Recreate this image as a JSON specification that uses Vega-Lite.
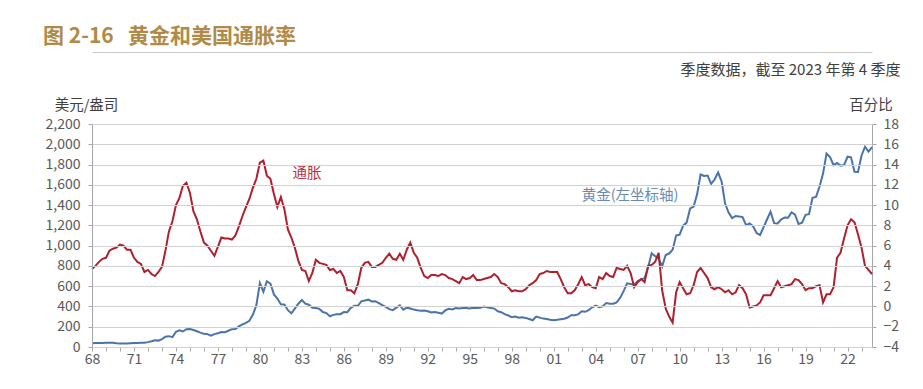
{
  "$schema": "https://vega.github.io/schema/vega-lite/v6.json",
  "width": 780,
  "height": 223,
  "autosize": {"type": "none"},
  "padding": {"left": 92, "top": 124, "right": 51, "bottom": 42},
  "background": "white",
  "title": {
    "text": "图 2-16\u00a0\u00a0\u00a0黄金和美国通胀率",
    "anchor": "start",
    "frame": "group",
    "dx": -49,
    "offset": 5,
    "fontSize": 21,
    "fontWeight": 600,
    "color": "#B08A47",
    "font": "Noto Sans CJK SC"
  },
  "data": {"values": [
    {"date":"1968-01-01","gold":36,"inflation":3.7},{"date":"1968-04-01","gold":40,"inflation":4.0},{"date":"1968-07-01","gold":39,"inflation":4.4},{"date":"1968-10-01","gold":39.5,"inflation":4.7},
    {"date":"1969-01-01","gold":42.5,"inflation":4.8},{"date":"1969-04-01","gold":43,"inflation":5.5},{"date":"1969-07-01","gold":41,"inflation":5.7},{"date":"1969-10-01","gold":37,"inflation":5.8},
    {"date":"1970-01-01","gold":35,"inflation":6.1},{"date":"1970-04-01","gold":35.5,"inflation":6.0},{"date":"1970-07-01","gold":35.5,"inflation":5.6},{"date":"1970-10-01","gold":37,"inflation":5.6},
    {"date":"1971-01-01","gold":38.5,"inflation":4.8},{"date":"1971-04-01","gold":40,"inflation":4.4},{"date":"1971-07-01","gold":42,"inflation":4.2},{"date":"1971-10-01","gold":43,"inflation":3.4},
    {"date":"1972-01-01","gold":48,"inflation":3.6},{"date":"1972-04-01","gold":56,"inflation":3.2},{"date":"1972-07-01","gold":66,"inflation":3.0},{"date":"1972-10-01","gold":63,"inflation":3.4},
    {"date":"1973-01-01","gold":78,"inflation":3.9},{"date":"1973-04-01","gold":102,"inflation":5.5},{"date":"1973-07-01","gold":107,"inflation":7.4},{"date":"1973-10-01","gold":97,"inflation":8.4},
    {"date":"1974-01-01","gold":150,"inflation":10.0},{"date":"1974-04-01","gold":165,"inflation":10.7},{"date":"1974-07-01","gold":153,"inflation":11.9},{"date":"1974-10-01","gold":175,"inflation":12.2},
    {"date":"1975-01-01","gold":178,"inflation":11.2},{"date":"1975-04-01","gold":167,"inflation":9.4},{"date":"1975-07-01","gold":155,"inflation":8.6},{"date":"1975-10-01","gold":142,"inflation":7.4},
    {"date":"1976-01-01","gold":130,"inflation":6.3},{"date":"1976-04-01","gold":127,"inflation":6.0},{"date":"1976-07-01","gold":111,"inflation":5.5},{"date":"1976-10-01","gold":127,"inflation":5.0},
    {"date":"1977-01-01","gold":135,"inflation":5.9},{"date":"1977-04-01","gold":147,"inflation":6.8},{"date":"1977-07-01","gold":146,"inflation":6.7},{"date":"1977-10-01","gold":160,"inflation":6.7},
    {"date":"1978-01-01","gold":176,"inflation":6.6},{"date":"1978-04-01","gold":178,"inflation":7.0},{"date":"1978-07-01","gold":203,"inflation":7.9},{"date":"1978-10-01","gold":223,"inflation":8.9},
    {"date":"1979-01-01","gold":238,"inflation":9.8},{"date":"1979-04-01","gold":258,"inflation":10.6},{"date":"1979-07-01","gold":317,"inflation":11.7},{"date":"1979-10-01","gold":413,"inflation":12.6},
    {"date":"1980-01-01","gold":631,"inflation":14.2},{"date":"1980-04-01","gold":544,"inflation":14.4},{"date":"1980-07-01","gold":649,"inflation":12.9},{"date":"1980-10-01","gold":626,"inflation":12.6},
    {"date":"1981-01-01","gold":519,"inflation":11.1},{"date":"1981-04-01","gold":478,"inflation":9.8},{"date":"1981-07-01","gold":421,"inflation":10.8},{"date":"1981-10-01","gold":420,"inflation":9.6},
    {"date":"1982-01-01","gold":363,"inflation":7.6},{"date":"1982-04-01","gold":333,"inflation":6.8},{"date":"1982-07-01","gold":379,"inflation":5.8},{"date":"1982-10-01","gold":427,"inflation":4.5},
    {"date":"1983-01-01","gold":464,"inflation":3.6},{"date":"1983-04-01","gold":428,"inflation":3.5},{"date":"1983-07-01","gold":417,"inflation":2.5},{"date":"1983-10-01","gold":388,"inflation":3.3},
    {"date":"1984-01-01","gold":384,"inflation":4.6},{"date":"1984-04-01","gold":376,"inflation":4.3},{"date":"1984-07-01","gold":345,"inflation":4.2},{"date":"1984-10-01","gold":335,"inflation":4.1},
    {"date":"1985-01-01","gold":303,"inflation":3.6},{"date":"1985-04-01","gold":317,"inflation":3.7},{"date":"1985-07-01","gold":324,"inflation":3.3},{"date":"1985-10-01","gold":324,"inflation":3.5},
    {"date":"1986-01-01","gold":345,"inflation":2.9},{"date":"1986-04-01","gold":343,"inflation":1.6},{"date":"1986-07-01","gold":386,"inflation":1.6},{"date":"1986-10-01","gold":406,"inflation":1.3},
    {"date":"1987-01-01","gold":407,"inflation":2.2},{"date":"1987-04-01","gold":451,"inflation":3.8},{"date":"1987-07-01","gold":458,"inflation":4.3},{"date":"1987-10-01","gold":467,"inflation":4.4},
    {"date":"1988-01-01","gold":449,"inflation":3.9},{"date":"1988-04-01","gold":452,"inflation":3.9},{"date":"1988-07-01","gold":433,"inflation":4.1},{"date":"1988-10-01","gold":413,"inflation":4.3},
    {"date":"1989-01-01","gold":395,"inflation":4.8},{"date":"1989-04-01","gold":374,"inflation":5.2},{"date":"1989-07-01","gold":364,"inflation":4.7},{"date":"1989-10-01","gold":388,"inflation":4.6},
    {"date":"1990-01-01","gold":410,"inflation":5.2},{"date":"1990-04-01","gold":367,"inflation":4.6},{"date":"1990-07-01","gold":388,"inflation":5.6},{"date":"1990-10-01","gold":380,"inflation":6.3},
    {"date":"1991-01-01","gold":369,"inflation":5.3},{"date":"1991-04-01","gold":362,"inflation":4.8},{"date":"1991-07-01","gold":358,"inflation":3.8},{"date":"1991-10-01","gold":360,"inflation":3.0},
    {"date":"1992-01-01","gold":352,"inflation":2.8},{"date":"1992-04-01","gold":340,"inflation":3.1},{"date":"1992-07-01","gold":344,"inflation":3.1},{"date":"1992-10-01","gold":338,"inflation":3.0},
    {"date":"1993-01-01","gold":330,"inflation":3.2},{"date":"1993-04-01","gold":361,"inflation":3.1},{"date":"1993-07-01","gold":377,"inflation":2.8},{"date":"1993-10-01","gold":371,"inflation":2.7},
    {"date":"1994-01-01","gold":385,"inflation":2.5},{"date":"1994-04-01","gold":381,"inflation":2.3},{"date":"1994-07-01","gold":385,"inflation":2.9},{"date":"1994-10-01","gold":384,"inflation":2.7},
    {"date":"1995-01-01","gold":379,"inflation":2.8},{"date":"1995-04-01","gold":387,"inflation":3.1},{"date":"1995-07-01","gold":385,"inflation":2.6},{"date":"1995-10-01","gold":386,"inflation":2.6},
    {"date":"1996-01-01","gold":400,"inflation":2.7},{"date":"1996-04-01","gold":392,"inflation":2.8},{"date":"1996-07-01","gold":385,"inflation":2.9},{"date":"1996-10-01","gold":379,"inflation":3.2},
    {"date":"1997-01-01","gold":352,"inflation":2.9},{"date":"1997-04-01","gold":343,"inflation":2.3},{"date":"1997-07-01","gold":324,"inflation":2.2},{"date":"1997-10-01","gold":311,"inflation":1.9},
    {"date":"1998-01-01","gold":294,"inflation":1.5},{"date":"1998-04-01","gold":300,"inflation":1.6},{"date":"1998-07-01","gold":288,"inflation":1.5},{"date":"1998-10-01","gold":294,"inflation":1.5},
    {"date":"1999-01-01","gold":287,"inflation":1.7},{"date":"1999-04-01","gold":276,"inflation":2.1},{"date":"1999-07-01","gold":264,"inflation":2.3},{"date":"1999-10-01","gold":300,"inflation":2.6},
    {"date":"2000-01-01","gold":290,"inflation":3.2},{"date":"2000-04-01","gold":280,"inflation":3.3},{"date":"2000-07-01","gold":277,"inflation":3.5},{"date":"2000-10-01","gold":269,"inflation":3.4},
    {"date":"2001-01-01","gold":264,"inflation":3.4},{"date":"2001-04-01","gold":268,"inflation":3.4},{"date":"2001-07-01","gold":274,"inflation":2.7},{"date":"2001-10-01","gold":279,"inflation":1.9},
    {"date":"2002-01-01","gold":291,"inflation":1.3},{"date":"2002-04-01","gold":313,"inflation":1.3},{"date":"2002-07-01","gold":314,"inflation":1.6},{"date":"2002-10-01","gold":322,"inflation":2.2},
    {"date":"2003-01-01","gold":352,"inflation":2.9},{"date":"2003-04-01","gold":347,"inflation":2.1},{"date":"2003-07-01","gold":363,"inflation":2.2},{"date":"2003-10-01","gold":392,"inflation":1.9},
    {"date":"2004-01-01","gold":408,"inflation":1.8},{"date":"2004-04-01","gold":393,"inflation":2.9},{"date":"2004-07-01","gold":401,"inflation":2.7},{"date":"2004-10-01","gold":434,"inflation":3.3},
    {"date":"2005-01-01","gold":427,"inflation":3.0},{"date":"2005-04-01","gold":427,"inflation":2.9},{"date":"2005-07-01","gold":440,"inflation":3.8},{"date":"2005-10-01","gold":485,"inflation":3.7},
    {"date":"2006-01-01","gold":554,"inflation":3.6},{"date":"2006-04-01","gold":628,"inflation":4.0},{"date":"2006-07-01","gold":622,"inflation":3.3},{"date":"2006-10-01","gold":614,"inflation":1.9},
    {"date":"2007-01-01","gold":650,"inflation":2.4},{"date":"2007-04-01","gold":667,"inflation":2.7},{"date":"2007-07-01","gold":680,"inflation":2.4},{"date":"2007-10-01","gold":788,"inflation":4.0},
    {"date":"2008-01-01","gold":925,"inflation":4.1},{"date":"2008-04-01","gold":896,"inflation":4.4},{"date":"2008-07-01","gold":872,"inflation":5.3},{"date":"2008-10-01","gold":795,"inflation":1.6},
    {"date":"2009-01-01","gold":908,"inflation":-0.2},{"date":"2009-04-01","gold":922,"inflation":-1.0},{"date":"2009-07-01","gold":960,"inflation":-1.6},{"date":"2009-10-01","gold":1100,"inflation":1.4},
    {"date":"2010-01-01","gold":1109,"inflation":2.4},{"date":"2010-04-01","gold":1197,"inflation":1.8},{"date":"2010-07-01","gold":1227,"inflation":1.2},{"date":"2010-10-01","gold":1367,"inflation":1.3},
    {"date":"2011-01-01","gold":1386,"inflation":2.1},{"date":"2011-04-01","gold":1506,"inflation":3.4},{"date":"2011-07-01","gold":1702,"inflation":3.8},{"date":"2011-10-01","gold":1688,"inflation":3.3},
    {"date":"2012-01-01","gold":1691,"inflation":2.8},{"date":"2012-04-01","gold":1609,"inflation":1.9},{"date":"2012-07-01","gold":1652,"inflation":1.7},{"date":"2012-10-01","gold":1722,"inflation":1.9},
    {"date":"2013-01-01","gold":1632,"inflation":1.7},{"date":"2013-04-01","gold":1415,"inflation":1.4},{"date":"2013-07-01","gold":1326,"inflation":1.6},{"date":"2013-10-01","gold":1272,"inflation":1.2},
    {"date":"2014-01-01","gold":1293,"inflation":1.4},{"date":"2014-04-01","gold":1288,"inflation":2.1},{"date":"2014-07-01","gold":1282,"inflation":1.8},{"date":"2014-10-01","gold":1201,"inflation":1.2},
    {"date":"2015-01-01","gold":1218,"inflation":-0.1},{"date":"2015-04-01","gold":1192,"inflation":0.0},{"date":"2015-07-01","gold":1124,"inflation":0.1},{"date":"2015-10-01","gold":1105,"inflation":0.4},
    {"date":"2016-01-01","gold":1183,"inflation":1.1},{"date":"2016-04-01","gold":1260,"inflation":1.1},{"date":"2016-07-01","gold":1335,"inflation":1.1},{"date":"2016-10-01","gold":1222,"inflation":1.8},
    {"date":"2017-01-01","gold":1219,"inflation":2.5},{"date":"2017-04-01","gold":1257,"inflation":1.9},{"date":"2017-07-01","gold":1278,"inflation":2.0},{"date":"2017-10-01","gold":1276,"inflation":2.1},
    {"date":"2018-01-01","gold":1329,"inflation":2.2},{"date":"2018-04-01","gold":1306,"inflation":2.7},{"date":"2018-07-01","gold":1213,"inflation":2.6},{"date":"2018-10-01","gold":1227,"inflation":2.2},
    {"date":"2019-01-01","gold":1304,"inflation":1.6},{"date":"2019-04-01","gold":1310,"inflation":1.8},{"date":"2019-07-01","gold":1472,"inflation":1.8},{"date":"2019-10-01","gold":1481,"inflation":2.0},
    {"date":"2020-01-01","gold":1583,"inflation":2.1},{"date":"2020-04-01","gold":1711,"inflation":0.4},{"date":"2020-07-01","gold":1909,"inflation":1.2},{"date":"2020-10-01","gold":1874,"inflation":1.2},
    {"date":"2021-01-01","gold":1794,"inflation":1.9},{"date":"2021-04-01","gold":1816,"inflation":4.8},{"date":"2021-07-01","gold":1789,"inflation":5.3},{"date":"2021-10-01","gold":1795,"inflation":6.7},
    {"date":"2022-01-01","gold":1877,"inflation":8.0},{"date":"2022-04-01","gold":1871,"inflation":8.6},{"date":"2022-07-01","gold":1729,"inflation":8.3},{"date":"2022-10-01","gold":1726,"inflation":7.1},
    {"date":"2023-01-01","gold":1890,"inflation":5.8},{"date":"2023-04-01","gold":1976,"inflation":4.0},{"date":"2023-07-01","gold":1928,"inflation":3.6},{"date":"2023-10-01","gold":1971,"inflation":3.2}
  ]},
  "layer": [
    {
      "mark": {"type": "line", "color": "#4A74A8", "strokeWidth": 2},
      "encoding": {
        "x": {
          "field": "date", "type": "temporal",
          "scale": {"type": "utc", "domain": [{"year": 1968, "month": 1, "date": 1, "utc": true}, {"year": 2023, "month": 10, "date": 1, "utc": true}]},
          "axis": {
            "orient": "bottom", "title": null,
            "tickCount": {"interval": "year", "step": 1},
            "labelExpr": "utcyear(datum.value) % 3 == 0 ? utcFormat(datum.value, '%y') : ''",
            "labelOverlap": false, "labelFlush": false, "labelBound": false,
            "grid": false, "domainColor": "#a6a6a6", "tickColor": "#a6a6a6", "tickSize": 4,
            "labelPadding": 1, "labelFontSize": 14, "labelColor": "#595959", "labelFont": "Noto Sans CJK SC"
          }
        },
        "y": {
          "field": "gold", "type": "quantitative",
          "scale": {"domain": [0, 2200], "nice": false},
          "axis": {
            "orient": "left",
            "values": [0, 200, 400, 600, 800, 1000, 1200, 1400, 1600, 1800, 2000, 2200],
            "format": ",.0f",
            "labelOverlap": false,
            "grid": true, "gridColor": "#d2d2d2", "gridWidth": 1, "gridOpacity": 1,
            "zindex": 1,
            "domainColor": "#a6a6a6", "tickColor": "#a6a6a6", "tickSize": 4,
            "labelPadding": 8, "labelFontSize": 14, "labelColor": "#595959", "labelFont": "Noto Sans CJK SC",
            "title": "美元/盎司", "titleAngle": 0, "titleX": -6, "titleY": -19,
            "titleAlign": "center", "titleBaseline": "middle",
            "titleFontSize": 14.5, "titleFontWeight": "normal", "titleColor": "#404040", "titleFont": "Noto Sans CJK SC"
          }
        }
      }
    },
    {
      "data": {"values": [{}]},
      "mark": {"type": "text", "align": "center", "baseline": "middle", "fontSize": 14.5, "font": "Noto Sans CJK SC", "color": "#6A8AB3"},
      "encoding": {
        "x": {"datum": {"year": 2006, "month": 6, "date": 17, "utc": true}, "type": "temporal", "axis": null},
        "y": {"datum": 1490, "type": "quantitative", "scale": {"domain": [0, 2200], "nice": false}, "axis": null},
        "text": {"value": "黄金(左坐标轴)"}
      }
    },
    {
      "mark": {"type": "line", "color": "#B01F2D", "strokeWidth": 2},
      "encoding": {
        "x": {
          "field": "date", "type": "temporal",
          "axis": {
            "orient": "top", "offset": 72, "labels": false, "ticks": false, "grid": false,
            "domain": true, "domainColor": "#c8c8c8", "domainWidth": 1,
            "title": "季度数据，截至 2023 年第 4 季度",
            "titleX": 808, "titleY": 17, "titleAlign": "right", "titleBaseline": "middle",
            "titleFontSize": 15, "titleFontWeight": "normal", "titleColor": "#404040", "titleFont": "Noto Sans CJK SC"
          }
        },
        "y": {
          "field": "inflation", "type": "quantitative",
          "scale": {"domain": [-4, 18], "nice": false, "zero": false},
          "axis": {
            "orient": "right",
            "values": [-4, -2, 0, 2, 4, 6, 8, 10, 12, 14, 16, 18],
            "format": "d",
            "labelOverlap": false,
            "grid": false,
            "domainColor": "#a6a6a6", "tickColor": "#a6a6a6", "tickSize": 4,
            "labelPadding": 7, "labelFontSize": 14, "labelColor": "#595959", "labelFont": "Noto Sans CJK SC",
            "title": "百分比", "titleAngle": 0, "titleX": -1.5, "titleY": -19,
            "titleAlign": "center", "titleBaseline": "middle",
            "titleFontSize": 14.5, "titleFontWeight": "normal", "titleColor": "#404040", "titleFont": "Noto Sans CJK SC"
          }
        }
      }
    },
    {
      "data": {"values": [{}]},
      "mark": {"type": "text", "align": "center", "baseline": "middle", "fontSize": 14.5, "font": "Noto Sans CJK SC", "color": "#B8323E"},
      "encoding": {
        "x": {"datum": {"year": 1983, "month": 5, "date": 15, "utc": true}, "type": "temporal", "axis": null},
        "y": {"datum": 13.07, "type": "quantitative", "scale": {"domain": [-4, 18], "nice": false, "zero": false}, "axis": null},
        "text": {"value": "通胀"}
      }
    }
  ],
  "resolve": {"scale": {"y": "independent"}, "axis": {"x": "independent", "y": "independent"}},
  "config": {"view": {"stroke": null}, "font": "Noto Sans CJK SC", "axis": {"gridColor": "#d2d2d2", "gridOpacity": 1}}
}
